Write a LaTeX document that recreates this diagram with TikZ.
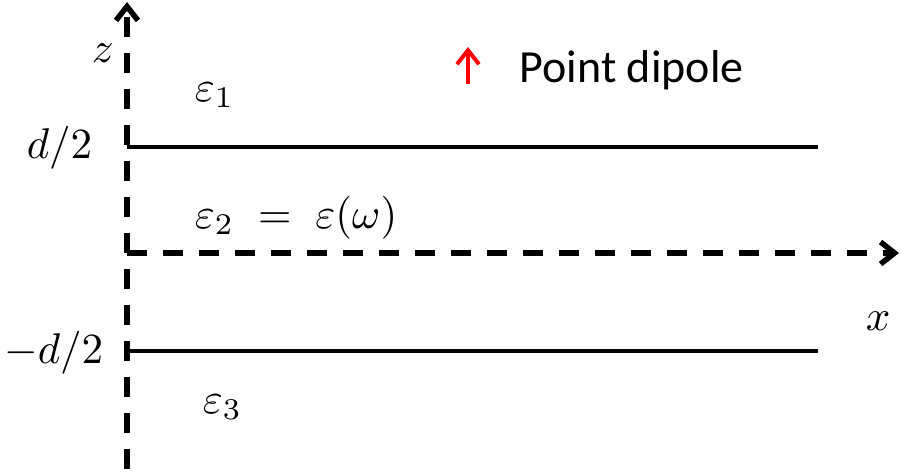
\documentclass[tikz,border=0pt]{standalone}
\usepackage{fontspec}
\newfontfamily\calibri{Carlito}
\usetikzlibrary{arrows.meta}

\begin{document}
\begin{tikzpicture}[x=1pt,y=-1pt,
    axis/.style={line width=5.5pt,dash pattern=on 20pt off 16pt},
    layer/.style={line width=4pt},
    barb/.style={-{Straight Barb[length=14pt,width=22pt]}},
    lbl/.style={inner sep=0pt,scale=4.3}]
    \useasboundingbox (0,0) rectangle (901,472);

    % axes
    \coordinate (o) at (127,253);
    \coordinate (zbot) at (127,472);
    \coordinate (ztop) at (127,2);
    \coordinate (xend) at (899,253);
    \draw[axis,dash phase=33pt,barb] (zbot) -- (ztop);
    \draw[axis,barb] (o) -- (xend);

    % interfaces at +d/2 and -d/2
    \coordinate (up0) at (127,147);
    \coordinate (up1) at (818,147);
    \coordinate (lo0) at (127,351);
    \coordinate (lo1) at (818,351);
    \draw[layer] (up0) -- (up1);
    \draw[layer] (lo0) -- (lo1);

    \node[lbl,anchor=base west] (zlab) at (91,62) {$z$};
    \node[lbl,anchor=base west] (xlab) at (865,330) {$x$};
    \node[lbl,anchor=base east] (dtop) at (93,158) {$d/2$};
    \node[lbl,anchor=base east] (dbot) at (104,363) {$-d/2$};
    \node[lbl,anchor=base west] (eps1) at (194,101) {$\varepsilon_1$};
    \node[lbl,anchor=base west] (eps2) at (194,228) {$\varepsilon_2\;=\;\varepsilon(\omega)$};
    \node[lbl,anchor=base west] (eps3) at (202,413) {$\varepsilon_3$};

    % dipole
    \coordinate (p0) at (468,84);
    \coordinate (p1) at (468,47);
    \draw[red,line width=4pt,barb] (p0) -- (p1);
    \node[anchor=base west,inner sep=0pt,scale=4,font=\calibri\fontsize{11.5}{14}\selectfont] (dip) at (519,82) {Point dipole};
\end{tikzpicture}
\end{document}
